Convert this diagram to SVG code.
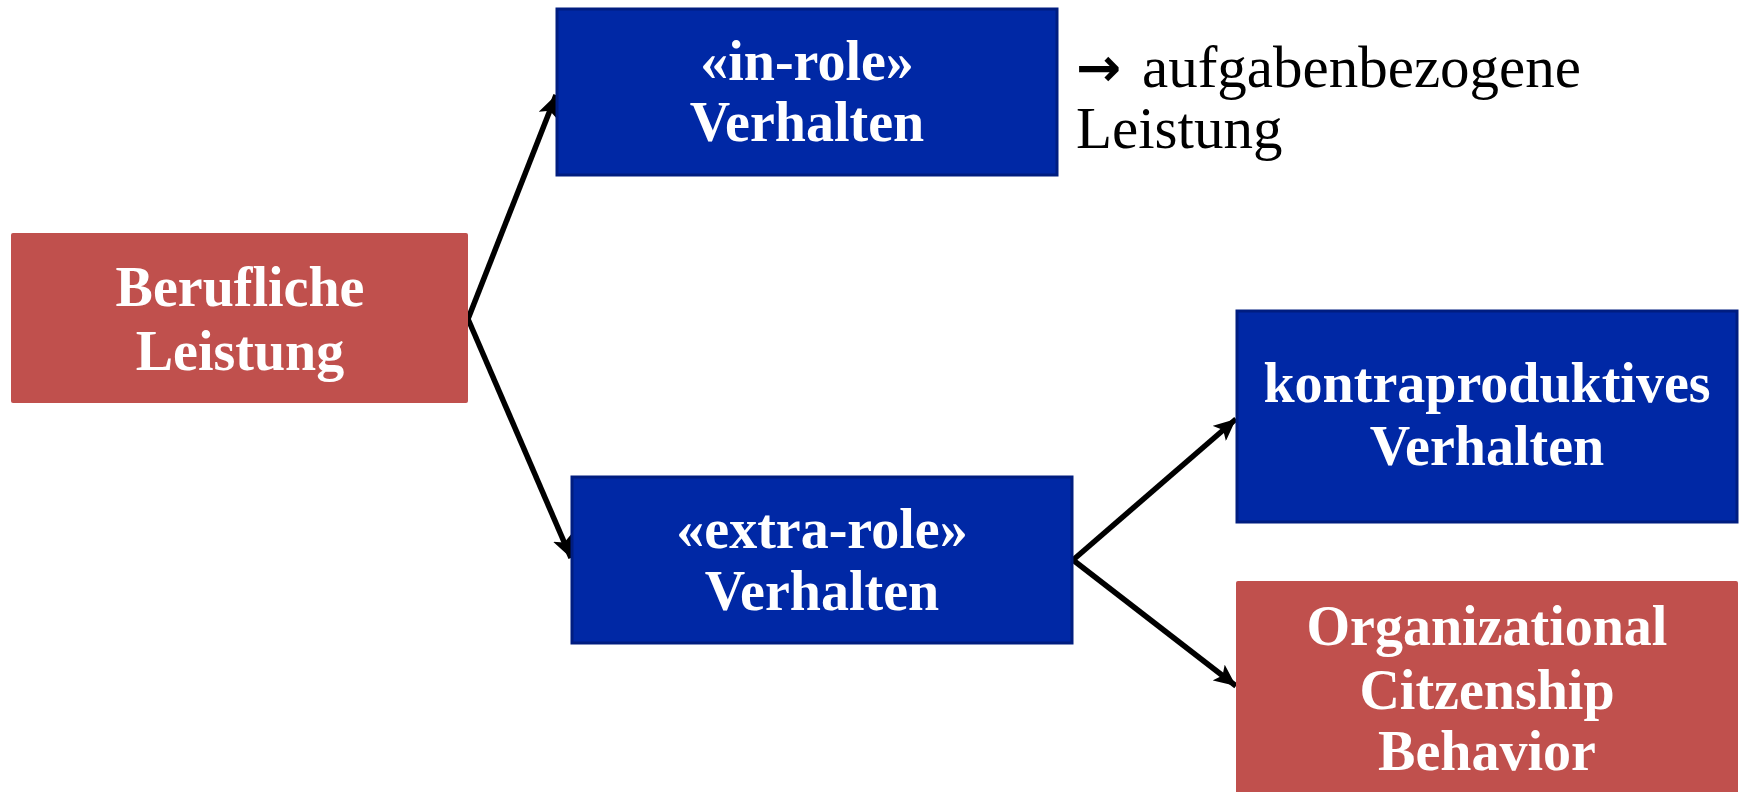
<svg xmlns="http://www.w3.org/2000/svg" width="1743" height="792" viewBox="0 0 1743 792">
<defs>
<style>
.red{fill:#C0504D;}
.blue{fill:#0028A5;stroke:#001D80;stroke-width:3;}
.lbl{font-family:"Liberation Serif","DejaVu Serif",serif;font-weight:bold;font-size:56px;fill:#FFFFFF;text-anchor:middle;}
.note{font-family:"Liberation Serif","DejaVu Serif",serif;font-size:59px;fill:#000000;}
.arr{font-family:"DejaVu Sans",sans-serif;font-weight:bold;font-size:54px;fill:#000000;}
.conn{stroke:#000000;stroke-width:5.5;fill:none;marker-end:url(#ah);}
</style>
<marker id="ah" markerUnits="userSpaceOnUse" markerWidth="24" markerHeight="20" refX="22" refY="10" orient="auto">
<path d="M0,0 L22,10 L0,20 L5,10 Z" fill="#000000"/>
</marker>
</defs>
<rect width="1743" height="792" fill="#FFFFFF"/>
<g id="connectors">
<polyline class="conn" points="468,319 556,95"/>
<polyline class="conn" points="468,319 571,558"/>
<polyline class="conn" points="1073,560 1236,419"/>
<polyline class="conn" points="1073,560 1236,686"/>
</g>
<g id="berufliche">
<rect class="red" x="11" y="233" width="457" height="170" rx="2"/>
<text class="lbl" x="240" y="306">Berufliche</text>
<text class="lbl" x="240" y="370">Leistung</text>
</g>
<g id="inrole">
<rect class="blue" x="557" y="9" width="500" height="166"/>
<text class="lbl" x="807" y="80">«in-role»</text>
<text class="lbl" x="807" y="141">Verhalten</text>
</g>
<g id="note">
<text class="arr" x="1076" y="86">→</text>
<text class="note" x="1142" y="87">aufgabenbezogene</text>
<text class="note" x="1076" y="148">Leistung</text>
</g>
<g id="extrarole">
<rect class="blue" x="572" y="477" width="500" height="166"/>
<text class="lbl" x="822" y="548">«extra-role»</text>
<text class="lbl" x="822" y="610">Verhalten</text>
</g>
<g id="kontra">
<rect class="blue" x="1237" y="311" width="500" height="211"/>
<text class="lbl" x="1487" y="402">kontraproduktives</text>
<text class="lbl" x="1487" y="465">Verhalten</text>
</g>
<g id="ocb">
<rect class="red" x="1236" y="581" width="502" height="220" rx="2"/>
<text class="lbl" x="1487" y="645">Organizational</text>
<text class="lbl" x="1487" y="709">Citzenship</text>
<text class="lbl" x="1487" y="770">Behavior</text>
</g>
</svg>
